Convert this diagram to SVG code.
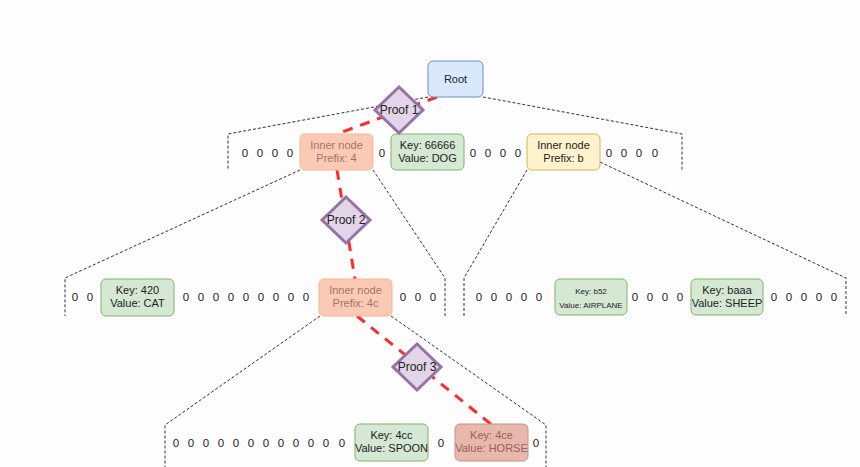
<svg xmlns="http://www.w3.org/2000/svg" width="860" height="467" viewBox="0 0 860 467">
<style>
text{font-family:"Liberation Sans",Arial,sans-serif;font-size:11px;fill:#222;text-anchor:middle}
.z{font-size:11.5px;fill:#222}
.dot{fill:none;stroke:#333;stroke-width:1;stroke-dasharray:3 2}
.red{fill:none;stroke:#ff2a2a;stroke-width:3;stroke-dasharray:10 8}
.root{fill:#dae8fc;stroke:#6c8ebf}
.leaf{fill:#d5e8d4;stroke:#82b366}
.inner{fill:#fbcab5;stroke:#f3b790}
.innerb{fill:#fff2cc;stroke:#d6b656}
.horse{fill:#e8b8ad;stroke:#c99184}
.proof{fill:#e1d5e7;stroke:#9673a6;stroke-width:3}
.pt{font-size:12px}
.faded{fill:#a2726a}
.fadedh{fill:#9c6058}
.small{font-size:8px}
</style>
<rect x="0" y="0" width="860" height="467" fill="#fdfdfd"/>
<g id="connectors">
<polyline class="dot" points="428,97 228,134 228,170"/>
<polyline class="dot" points="483,97 682,134 682,170"/>
<polyline class="dot" points="300,170 65,278 65,316"/>
<polyline class="dot" points="373,170 445,278 445,316"/>
<polyline class="dot" points="527,170 464,278 464,316"/>
<polyline class="dot" points="600,162 846,278 846,316"/>
<polyline class="dot" points="320,316 165,425 165,467"/>
<polyline class="dot" points="391,316 546,425 546,467"/>
<line class="red" x1="437" y1="97" x2="337" y2="134"/>
<line class="red" x1="337" y1="170" x2="355" y2="279"/>
<line class="red" x1="357" y1="316" x2="492" y2="425"/>
</g>
<g id="zeros">
<text class="z" x="245" y="157">0</text><text class="z" x="260" y="157">0</text><text class="z" x="275" y="157">0</text><text class="z" x="290" y="157">0</text>
<text class="z" x="382" y="157">0</text>
<text class="z" x="473" y="157">0</text><text class="z" x="488" y="157">0</text><text class="z" x="503" y="157">0</text><text class="z" x="518" y="157">0</text>
<text class="z" x="609" y="157">0</text><text class="z" x="624" y="157">0</text><text class="z" x="639" y="157">0</text><text class="z" x="655" y="157">0</text>
<text class="z" x="75" y="301">0</text><text class="z" x="90" y="301">0</text>
<text class="z" x="186" y="301">0</text><text class="z" x="201" y="301">0</text><text class="z" x="216" y="301">0</text><text class="z" x="231" y="301">0</text><text class="z" x="246" y="301">0</text><text class="z" x="261" y="301">0</text><text class="z" x="276" y="301">0</text><text class="z" x="291" y="301">0</text><text class="z" x="306" y="301">0</text>
<text class="z" x="403" y="301">0</text><text class="z" x="418" y="301">0</text><text class="z" x="433" y="301">0</text>
<text class="z" x="479" y="301">0</text><text class="z" x="494" y="301">0</text><text class="z" x="509" y="301">0</text><text class="z" x="524" y="301">0</text><text class="z" x="539" y="301">0</text>
<text class="z" x="635" y="301">0</text><text class="z" x="650" y="301">0</text><text class="z" x="665" y="301">0</text><text class="z" x="680" y="301">0</text>
<text class="z" x="774" y="301">0</text><text class="z" x="789" y="301">0</text><text class="z" x="804" y="301">0</text><text class="z" x="819" y="301">0</text><text class="z" x="834" y="301">0</text>
<text class="z" x="176" y="447">0</text><text class="z" x="191" y="447">0</text><text class="z" x="206" y="447">0</text><text class="z" x="221" y="447">0</text><text class="z" x="236" y="447">0</text><text class="z" x="251" y="447">0</text><text class="z" x="266" y="447">0</text><text class="z" x="281" y="447">0</text><text class="z" x="296" y="447">0</text><text class="z" x="311" y="447">0</text><text class="z" x="326" y="447">0</text><text class="z" x="342" y="447">0</text>
<text class="z" x="441" y="447">0</text>
<text class="z" x="536" y="447">0</text>
</g>
<g id="root"><rect class="root" x="428" y="61" width="55" height="36" rx="5"/><text x="455.5" y="83">Root</text></g>
<g id="inner4"><rect class="inner" x="300" y="134" width="73" height="36" rx="5"/><text class="faded" x="336.5" y="149">Inner node</text><text class="faded" x="336.5" y="162">Prefix: 4</text></g>
<g id="dog"><rect class="leaf" x="391" y="134" width="73" height="36" rx="5"/><text x="427.5" y="149">Key: 66666</text><text x="427.5" y="162">Value: DOG</text></g>
<g id="innerb"><rect class="innerb" x="527" y="134" width="73" height="36" rx="5"/><text x="563.5" y="149">Inner node</text><text x="563.5" y="162">Prefix: b</text></g>
<g id="cat"><rect class="leaf" x="101" y="279" width="73" height="37" rx="5"/><text x="137.5" y="294">Key: 420</text><text x="137.5" y="307">Value: CAT</text></g>
<g id="inner4c"><rect class="inner" x="319" y="279" width="73" height="37" rx="5"/><text class="faded" x="355.5" y="294">Inner node</text><text class="faded" x="355.5" y="307">Prefix: 4c</text></g>
<g id="airplane"><rect class="leaf" x="555" y="279" width="72" height="36" rx="5"/><text class="small" x="591" y="294">Key: b52</text><text class="small" x="591" y="308">Value: AIRPLANE</text></g>
<g id="sheep"><rect class="leaf" x="691" y="279" width="72" height="36" rx="5"/><text x="727" y="294">Key: baaa</text><text x="727" y="307">Value: SHEEP</text></g>
<g id="spoon"><rect class="leaf" x="355" y="424" width="73" height="37" rx="5"/><text x="391.5" y="439">Key: 4cc</text><text x="391.5" y="452">Value: SPOON</text></g>
<g id="horse"><rect class="horse" x="455" y="424" width="73" height="37" rx="5"/><text class="fadedh" x="491.5" y="439">Key: 4ce</text><text class="fadedh" x="491.5" y="452">Value: HORSE</text></g>
<g id="proof1"><polygon class="proof" points="399,87 423,110 399,133 375,110"/><text class="pt" x="399" y="114">Proof 1</text></g>
<g id="proof2"><polygon class="proof" points="346,197 370,220 346,243 322,220"/><text class="pt" x="346" y="224">Proof 2</text></g>
<g id="proof3"><polygon class="proof" points="417,344 441,367 417,390 393,367"/><text class="pt" x="417" y="371">Proof 3</text></g>
</svg>
